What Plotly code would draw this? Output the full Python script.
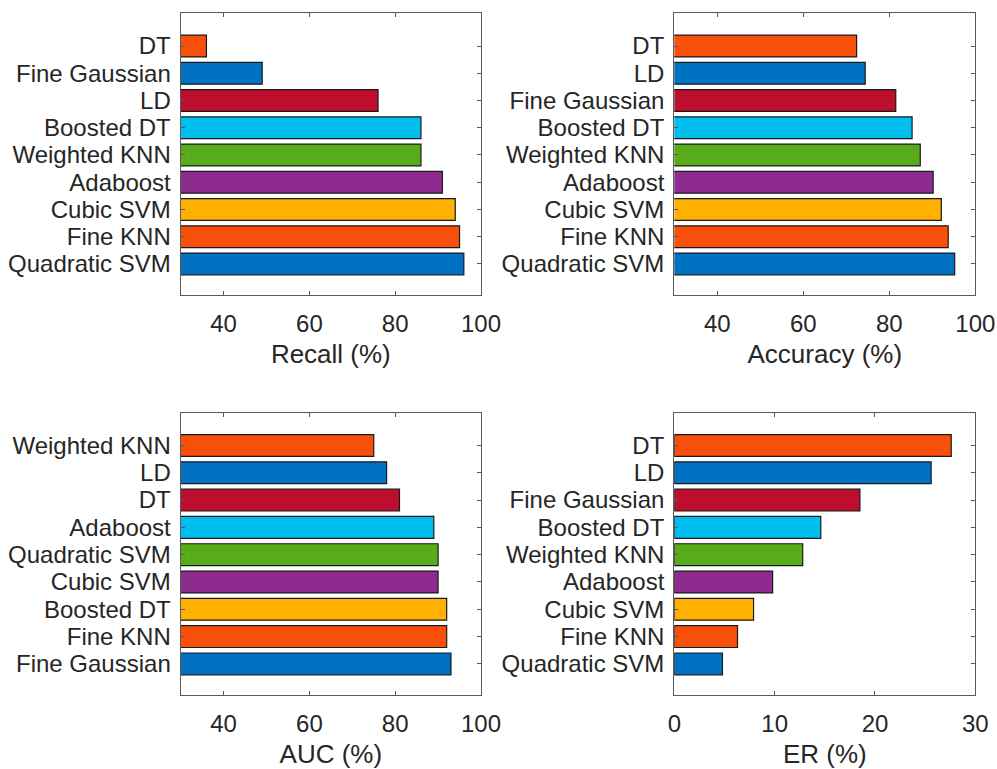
import plotly.graph_objects as go

# Classifier comparison: four horizontal bar panels, bars listed bottom-to-top
recall_models = ["Quadratic SVM", "Fine KNN", "Cubic SVM", "Adaboost", "Weighted KNN",
                 "Boosted DT", "LD", "Fine Gaussian", "DT"]
recall_values = [96, 95, 94, 91, 86, 86, 76, 49, 36]

accuracy_models = ["Quadratic SVM", "Fine KNN", "Cubic SVM", "Adaboost", "Weighted KNN",
                   "Boosted DT", "Fine Gaussian", "LD", "DT"]
accuracy_values = [95.2, 93.7, 92.1, 90.2, 87.2, 85.3, 81.5, 74.4, 72.4]

auc_models = ["Fine Gaussian", "Fine KNN", "Boosted DT", "Cubic SVM", "Quadratic SVM",
              "Adaboost", "DT", "LD", "Weighted KNN"]
auc_values = [93, 92, 92, 90, 90, 89, 81, 78, 75]

er_models = ["Quadratic SVM", "Fine KNN", "Cubic SVM", "Adaboost", "Weighted KNN",
             "Boosted DT", "Fine Gaussian", "LD", "DT"]
er_values = [4.8, 6.3, 7.9, 9.8, 12.8, 14.6, 18.5, 25.6, 27.6]

# One colour per bar position (bottom to top), repeated in every panel
bar_colors = ["#0072C3", "#F8500A", "#FFB000", "#8E2B8E", "#58AC1A",
              "#00BEEE", "#BE0E2E", "#0072C3", "#F8500A"]

FONT = "Liberation Sans, Arial, sans-serif"
TEXT = "#262626"
FRAME = "#5a5a5a"
W, H = 997, 769

panels = [
    # (models, values, x title, x range, x ticks, (left, right, top, bottom) in px)
    (recall_models, recall_values, "Recall (%)", [30, 100], [40, 60, 80, 100], (180.7, 481.0, 13.3, 295.3)),
    (accuracy_models, accuracy_values, "Accuracy (%)", [30, 100], [40, 60, 80, 100], (674.3, 975.3, 13.3, 295.3)),
    (auc_models, auc_values, "AUC (%)", [30, 100], [40, 60, 80, 100], (180.7, 481.0, 412.7, 695.3)),
    (er_models, er_values, "ER (%)", [0, 30], [0, 10, 20, 30], (674.3, 975.3, 412.7, 695.3)),
]

fig = go.Figure()
layout = {}
for i, (models, values, title, xr, xt, (l, r, t, b)) in enumerate(panels, start=1):
    xa = "x" if i == 1 else f"x{i}"
    ya = "y" if i == 1 else f"y{i}"
    fig.add_trace(go.Bar(
        x=values, y=models, orientation="h", width=0.8,
        marker=dict(color=bar_colors, line=dict(color="#1a1a1a", width=1.2)),
        xaxis=xa, yaxis=ya, showlegend=False,
    ))
    xkey = "xaxis" if i == 1 else f"xaxis{i}"
    ykey = "yaxis" if i == 1 else f"yaxis{i}"
    layout[xkey] = dict(
        domain=[l / W, r / W], anchor=ya, range=xr,
        tickmode="array", tickvals=xt, ticktext=[str(v) for v in xt],
        ticks="inside", ticklen=4, tickcolor=FRAME, tickwidth=1,
        showline=True, linecolor=FRAME, linewidth=1.3, mirror="ticks",
        showgrid=False, zeroline=False, automargin=False,
        tickfont=dict(family=FONT, size=24, color=TEXT),
        ticklabelstandoff=7,
        title=dict(text=title, font=dict(family=FONT, size=26, color=TEXT), standoff=8),
    )
    layout[ykey] = dict(
        domain=[1 - b / H, 1 - t / H], anchor=xa,
        type="category", categoryorder="array", categoryarray=models,
        tickmode="array", tickvals=models, ticktext=models,
        range=[-1.15, 9.2],
        ticks="inside", ticklen=4, tickcolor=FRAME, tickwidth=1,
        showline=True, linecolor=FRAME, linewidth=1.3, mirror="ticks",
        showgrid=False, zeroline=False, automargin=False,
        tickfont=dict(family=FONT, size=24, color=TEXT),
        ticklabelstandoff=4,
    )

fig.update_layout(
    width=W, height=H,
    margin=dict(l=0, r=0, t=0, b=0, autoexpand=False),
    paper_bgcolor="white", plot_bgcolor="white",
    bargap=0.2,
    **layout,
)

fig.write_html("out.html")
